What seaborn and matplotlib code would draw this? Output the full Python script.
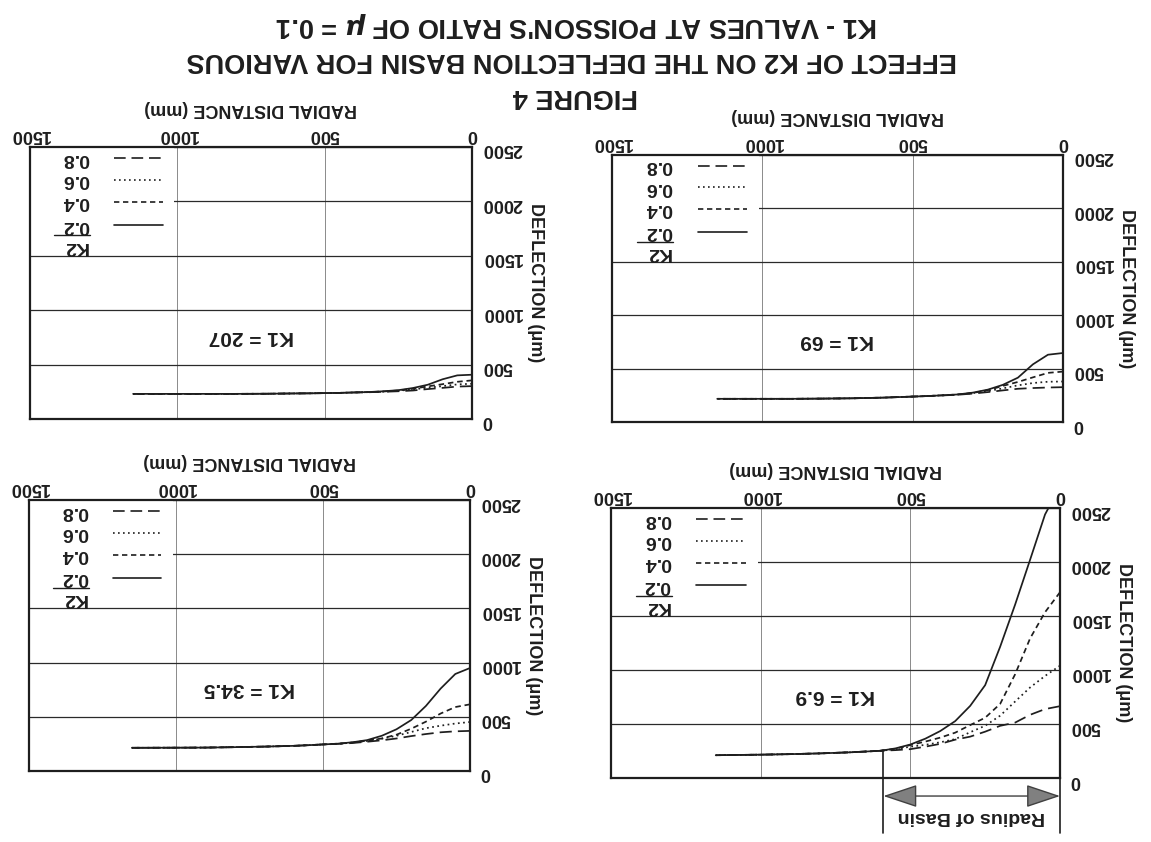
import numpy as np
import pandas as pd
import matplotlib
matplotlib.use("Agg")
import matplotlib.pyplot as plt
from matplotlib.patches import Rectangle
import seaborn as sns

# Radial distance from the load centre (mm)
radial_mm = [0, 50, 100, 150, 200, 250, 300, 350, 400, 450, 500, 550, 600, 700, 800, 900, 1000, 1150]

k2_labels = ["0.2", "0.4", "0.6", "0.8"]

# Surface deflection (um) for K1 = 6.9
k1_6_9_k2_0_2 = [2700, 2440, 2020, 1605, 1215, 860, 668, 527, 435, 364, 310, 274, 252, 238, 228, 221, 216, 211]
k1_6_9_k2_0_4 = [1720, 1535, 1292, 960, 686, 558, 490, 420, 374, 337, 305, 270, 252, 238, 228, 221, 216, 211]
k1_6_9_k2_0_6 = [1040, 945, 838, 708, 577, 484, 424, 360, 331, 307, 290, 266, 252, 238, 228, 221, 216, 211]
k1_6_9_k2_0_8 = [665, 638, 585, 513, 483, 429, 383, 355, 316, 290, 267, 258, 252, 238, 228, 221, 216, 211]

# Surface deflection (um) for K1 = 34.5
k1_34_5_k2_0_2 = [950, 895, 760, 600, 470, 385, 325, 285, 265, 252, 245, 238, 232, 225, 220, 216, 215, 214]
k1_34_5_k2_0_4 = [615, 590, 530, 455, 390, 335, 300, 280, 262, 252, 245, 238, 232, 225, 220, 216, 215, 214]
k1_34_5_k2_0_6 = [452, 438, 418, 395, 360, 325, 298, 278, 262, 250, 245, 238, 232, 225, 220, 216, 215, 214]
k1_34_5_k2_0_8 = [370, 366, 357, 341, 322, 300, 283, 270, 258, 250, 245, 238, 232, 225, 220, 216, 215, 214]

# Surface deflection (um) for K1 = 69
k1_69_k2_0_2 = [646, 630, 540, 415, 348, 303, 275, 258, 250, 243, 238, 233, 228, 222, 219, 217, 217, 217]
k1_69_k2_0_4 = [472, 460, 418, 375, 338, 298, 272, 258, 250, 243, 238, 233, 228, 222, 219, 217, 217, 217]
k1_69_k2_0_6 = [379, 377, 365, 343, 315, 290, 270, 256, 250, 243, 238, 233, 228, 222, 219, 217, 217, 217]
k1_69_k2_0_8 = [326, 323, 318, 311, 296, 280, 266, 255, 249, 243, 238, 233, 228, 222, 219, 217, 217, 217]

# Surface deflection (um) for K1 = 207
k1_207_k2_0_2 = [407, 401, 365, 315, 285, 265, 255, 248, 244, 240, 238, 236, 235, 232, 231, 231, 231, 231]
k1_207_k2_0_4 = [355, 342, 320, 300, 278, 262, 253, 247, 244, 240, 238, 236, 235, 232, 231, 231, 231, 231]
k1_207_k2_0_6 = [324, 318, 302, 288, 272, 260, 252, 247, 244, 240, 238, 236, 235, 232, 231, 231, 231, 231]
k1_207_k2_0_8 = [302, 298, 286, 275, 262, 255, 250, 246, 244, 240, 238, 236, 235, 232, 231, 231, 231, 231]

x_ticks = [0, 500, 1000, 1500]
y_ticks = [0, 500, 1000, 1500, 2000, 2500]
basin_radius_mm = 590

panels = {
    "207": [k1_207_k2_0_2, k1_207_k2_0_4, k1_207_k2_0_6, k1_207_k2_0_8],
    "69": [k1_69_k2_0_2, k1_69_k2_0_4, k1_69_k2_0_6, k1_69_k2_0_8],
    "34.5": [k1_34_5_k2_0_2, k1_34_5_k2_0_4, k1_34_5_k2_0_6, k1_34_5_k2_0_8],
    "6.9": [k1_6_9_k2_0_2, k1_6_9_k2_0_4, k1_6_9_k2_0_6, k1_6_9_k2_0_8],
}

W, H = 1151, 842
# axes boxes in pixels: left, top, right, bottom
panel_boxes = {
    "207": (30, 147, 472, 419),
    "69": (612, 155, 1063, 422),
    "34.5": (29, 500, 470, 771),
    "6.9": (611, 508, 1060, 778),
}

sns.set_style("white")
plt.rcParams["font.family"] = ["Liberation Sans", "DejaVu Sans"]
plt.rcParams["font.weight"] = "bold"
plt.rcParams["axes.labelweight"] = "bold"
plt.rcParams["mathtext.fontset"] = "dejavusans"

ink = "#1e1e1e"
dash_map = {"0.2": "", "0.4": (3.2, 2.2), "0.6": (1.0, 2.0), "0.8": (7.0, 3.5)}

fig = plt.figure(figsize=(W / 100, H / 100), dpi=100)
fig.patch.set_facecolor("white")

for k1, series in panels.items():
    l, t, r, b = panel_boxes[k1]
    ax = fig.add_axes([l / W, 1 - b / H, (r - l) / W, (b - t) / H])

    frames = [pd.DataFrame({"r": radial_mm, "d": vals, "K2": k2})
              for k2, vals in zip(k2_labels, series)]
    df = pd.concat(frames, ignore_index=True)

    sns.lineplot(data=df, x="r", y="d", style="K2", dashes=dash_map,
                 color=ink, lw=1.25, legend=False, estimator=None, ax=ax)

    # The sheet is printed upside down: distance runs right-to-left
    ax.set_xlim(1500, 0)
    ax.set_ylim(0, 2500)
    ax.set_xticks(x_ticks)
    ax.set_yticks(y_ticks)
    ax.xaxis.tick_top()
    ax.xaxis.set_label_position("top")
    ax.yaxis.tick_right()
    ax.yaxis.set_label_position("right")
    ax.tick_params(length=0, labelsize=13, labelcolor=ink)
    ax.tick_params(axis="x", labelrotation=180, pad=3)
    ax.tick_params(axis="y", labelrotation=180, pad=7)
    ax.set_xlabel("RADIAL DISTANCE (mm)", rotation=180, fontsize=13,
                  fontweight="bold", color=ink, labelpad=9)
    ax.set_ylabel("DEFLECTION (\u03bcm)", rotation=270, fontsize=13,
                  fontweight="bold", color=ink, labelpad=16)

    ax.set_axisbelow(True)
    ax.yaxis.grid(True, color="#2a2a2a", lw=0.9)
    ax.xaxis.grid(True, color="#8a8a8a", lw=0.7)
    for sp in ax.spines.values():
        sp.set_visible(True)
        sp.set_color(ink)
        sp.set_linewidth(1.6)

    # legend block with white backing
    ax.add_patch(Rectangle((1010, 1530), 490, 970, facecolor="white",
                           edgecolor="none", zorder=1))
    rows_y = [0.713, 0.798, 0.879, 0.959]
    for k2, yy in zip(k2_labels, rows_y):
        ln, = ax.plot([0.19, 0.30], [yy, yy], transform=ax.transAxes,
                      color=ink, lw=1.2, zorder=3)
        if dash_map[k2]:
            ln.set_dashes(dash_map[k2])
        ax.text(0.103, yy, k2, transform=ax.transAxes, rotation=180,
                ha="center", va="center", fontsize=14, color=ink, zorder=3)
    ax.plot([0.055, 0.135], [0.675, 0.675], transform=ax.transAxes,
            color=ink, lw=1.0, zorder=3)
    ax.text(0.103, 0.636, "K2", transform=ax.transAxes, rotation=180,
            ha="center", va="center", fontsize=14, color=ink, zorder=3)

    ax.text(750, 760, f"K1 = {k1}", rotation=180, ha="center", va="center",
            fontsize=15, color=ink)

    if k1 == "6.9":
        edge_d = float(np.interp(basin_radius_mm, radial_mm, series[0]))
        ax.plot([basin_radius_mm, basin_radius_mm], [edge_d, -510],
                color=ink, lw=1.2, clip_on=False)
        ax.plot([0, 0], [0, -510], color=ink, lw=1.2, clip_on=False)
        ax.annotate("", xy=(0, -167), xytext=(basin_radius_mm, -167),
                    annotation_clip=False,
                    arrowprops=dict(arrowstyle="<|-|>,head_length=1.8,head_width=0.6",
                                    facecolor="#808080", edgecolor="#404040",
                                    lw=1.0, mutation_scale=12,
                                    shrinkA=0, shrinkB=0))
        ax.text(basin_radius_mm / 2, -355, "Radius of Basin", rotation=180,
                ha="center", va="center", fontsize=14, color=ink,
                clip_on=False)

fig.text(0.501, 1 - 25 / H, r"K1 - VALUES AT POISSON'S RATIO OF $\mu$ = 0.1",
         rotation=180, ha="center", va="center", fontsize=19.5, color=ink)
fig.text(0.497, 1 - 60 / H, "EFFECT OF K2 ON THE DEFLECTION BASIN FOR VARIOUS",
         rotation=180, ha="center", va="center", fontsize=19.5, color=ink)
fig.text(0.500, 1 - 96 / H, "FIGURE 4",
         rotation=180, ha="center", va="center", fontsize=19.5, color=ink)

fig.savefig("out.png", dpi=100, facecolor="white")
